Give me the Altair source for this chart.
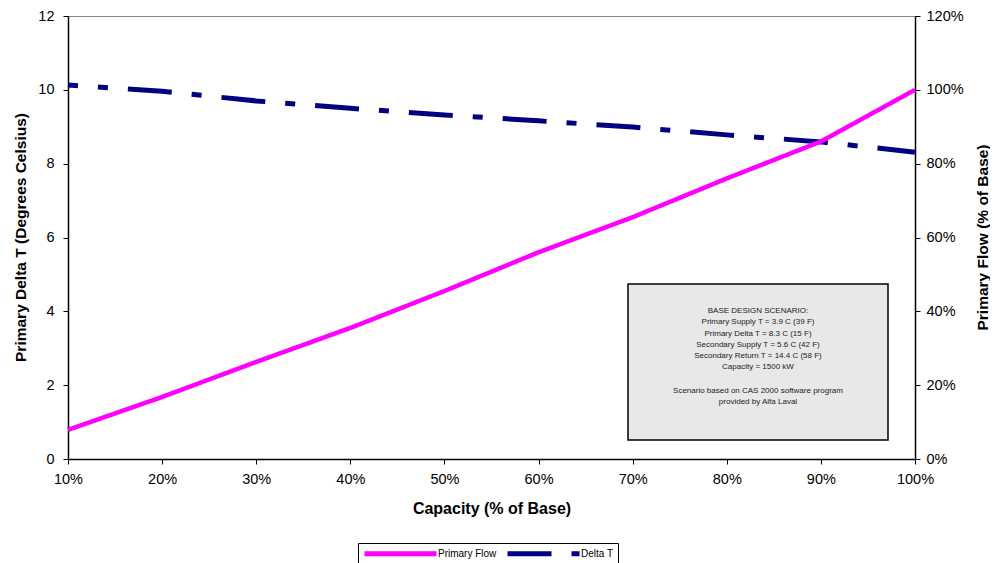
import altair as alt
import pandas as pd

capacity = [0.1, 0.2, 0.3, 0.4, 0.5, 0.6, 0.7, 0.8, 0.9, 1.0]
primary_flow = [0.079, 0.168, 0.263, 0.355, 0.455, 0.56, 0.655, 0.76, 0.86, 1.0]
delta_t = [10.13, 9.96, 9.70, 9.50, 9.32, 9.16, 8.99, 8.78, 8.59, 8.31]

x_ticks = [0.1, 0.2, 0.3, 0.4, 0.5, 0.6, 0.7, 0.8, 0.9, 1.0]
left_ticks = [0, 2, 4, 6, 8, 10, 12]
right_ticks = [0, 0.2, 0.4, 0.6, 0.8, 1.0, 1.2]

series_names = ["Primary Flow", "Delta T"]
series_colors = ["#FF00FF", "#000080"]
series_dashes = [[1, 0], [44, 20, 10, 20]]

note_lines_top = [
    "BASE DESIGN SCENARIO:",
    "Primary Supply T = 3.9 C (39 F)",
    "Primary Delta T = 8.3 C (15 F)",
    "Secondary Supply T = 5.6 C (42 F)",
    "Secondary Return T = 14.4 C (58 F)",
    "Capacity = 1500 kW",
]
note_lines_bottom = [
    "Scenario based on CAS 2000 software program",
    "provided by Alfa Laval",
]

df = pd.DataFrame({"capacity": capacity, "flow": primary_flow, "dt": delta_t})

FONT = "Liberation Sans"
LABEL_SIZE = 14.5
TITLE_SIZE = 15.5

x_enc = alt.X(
    "capacity:Q",
    scale=alt.Scale(domain=[0.1, 1.0], nice=False, zero=False),
    axis=alt.Axis(
        values=x_ticks, format=".0%", title="Capacity (% of Base)",
        grid=False, tickSize=5, labelPadding=8, labelFontSize=LABEL_SIZE, labelFlush=False,
        titleFontSize=16, titleFontWeight="bold", titleY=41, titleBaseline="top",
        domainColor="black", tickColor="black", labelColor="black",
        domainWidth=1.5, labelFont=FONT, titleFont=FONT,
    ),
)

color_enc = alt.Color(
    "series:N",
    scale=alt.Scale(domain=series_names, range=series_colors),
    legend=alt.Legend(
        title=None, orient="none", legendX=290, legendY=527, direction="horizontal",
        strokeColor="black", fillColor="white", padding=4,
        symbolType="M-1,0H17", symbolSize=64, symbolStrokeWidth=5,
        labelFontSize=10, labelFont=FONT, labelColor="black", labelOffset=63,
        columnPadding=0, cornerRadius=0,
    ),
)
dash_enc = alt.StrokeDash(
    "series:N",
    scale=alt.Scale(domain=series_names, range=series_dashes),
    legend=alt.Legend(title=None),
)

delta_layer = (
    alt.Chart(df)
    .transform_calculate(series="'Delta T'")
    .mark_line(strokeWidth=5, strokeDashOffset=34, strokeCap="butt")
    .encode(
        x=x_enc,
        y=alt.Y(
            "dt:Q",
            scale=alt.Scale(domain=[0, 12], nice=False),
            axis=alt.Axis(
                orient="left", values=left_ticks, title="Primary Delta T (Degrees Celsius)",
                grid=False, tickSize=5, labelPadding=9, labelFontSize=LABEL_SIZE,
                titleFontSize=TITLE_SIZE, titleFontWeight="bold", titleX=-40, titleY=221,
                domainColor="black", tickColor="black", labelColor="black",
                domainWidth=1.5, labelFont=FONT, titleFont=FONT,
            ),
        ),
        color=color_enc,
        strokeDash=dash_enc,
    )
)

flow_layer = (
    alt.Chart(df)
    .transform_calculate(series="'Primary Flow'")
    .mark_line(strokeWidth=4.5, strokeCap="butt")
    .encode(
        x=x_enc,
        y=alt.Y(
            "flow:Q",
            scale=alt.Scale(domain=[0, 1.2], nice=False),
            axis=alt.Axis(
                orient="right", values=right_ticks, format=".0%", title="Primary Flow (% of Base)",
                grid=False, tickSize=5, labelPadding=6, labelFontSize=LABEL_SIZE,
                titleFontSize=TITLE_SIZE, titleFontWeight="bold", titleAngle=270, titleX=75, titleY=221,
                domainColor="black", tickColor="black", labelColor="black",
                domainWidth=1.5, labelFont=FONT, titleFont=FONT,
            ),
        ),
        color=color_enc,
        strokeDash=dash_enc,
    )
)

note_box = (
    alt.Chart(alt.Data(values=[{"k": 1}]))
    .mark_rect(fill="#E8E8E8", stroke="black", strokeWidth=1.5)
    .encode(x=alt.value(560), x2=alt.value(820), y=alt.value(268), y2=alt.value(424))
)
note_text_top = (
    alt.Chart(alt.Data(values=[{"k": 1}]))
    .mark_text(fontSize=8, font=FONT, color="#222", lineHeight=11.25, align="center", baseline="middle")
    .encode(x=alt.value(690), y=alt.value(295), text=alt.value(note_lines_top))
)
note_text_bottom = (
    alt.Chart(alt.Data(values=[{"k": 1}]))
    .mark_text(fontSize=8, font=FONT, color="#222", lineHeight=11.25, align="center", baseline="middle")
    .encode(x=alt.value(690), y=alt.value(375), text=alt.value(note_lines_bottom))
)

chart = (
    alt.layer(delta_layer, flow_layer, note_box, note_text_top, note_text_bottom)
    .resolve_scale(y="independent")
    .properties(
        width=847, height=443,
        autosize=alt.AutoSizeParams(type="none"),
        padding={"left": 60, "top": 8, "right": 75, "bottom": 104},
        background="white",
    )
    .configure_view(stroke="#888888", strokeWidth=1)
)

chart.save("out.html", embed_options={"renderer": "svg", "actions": False})
